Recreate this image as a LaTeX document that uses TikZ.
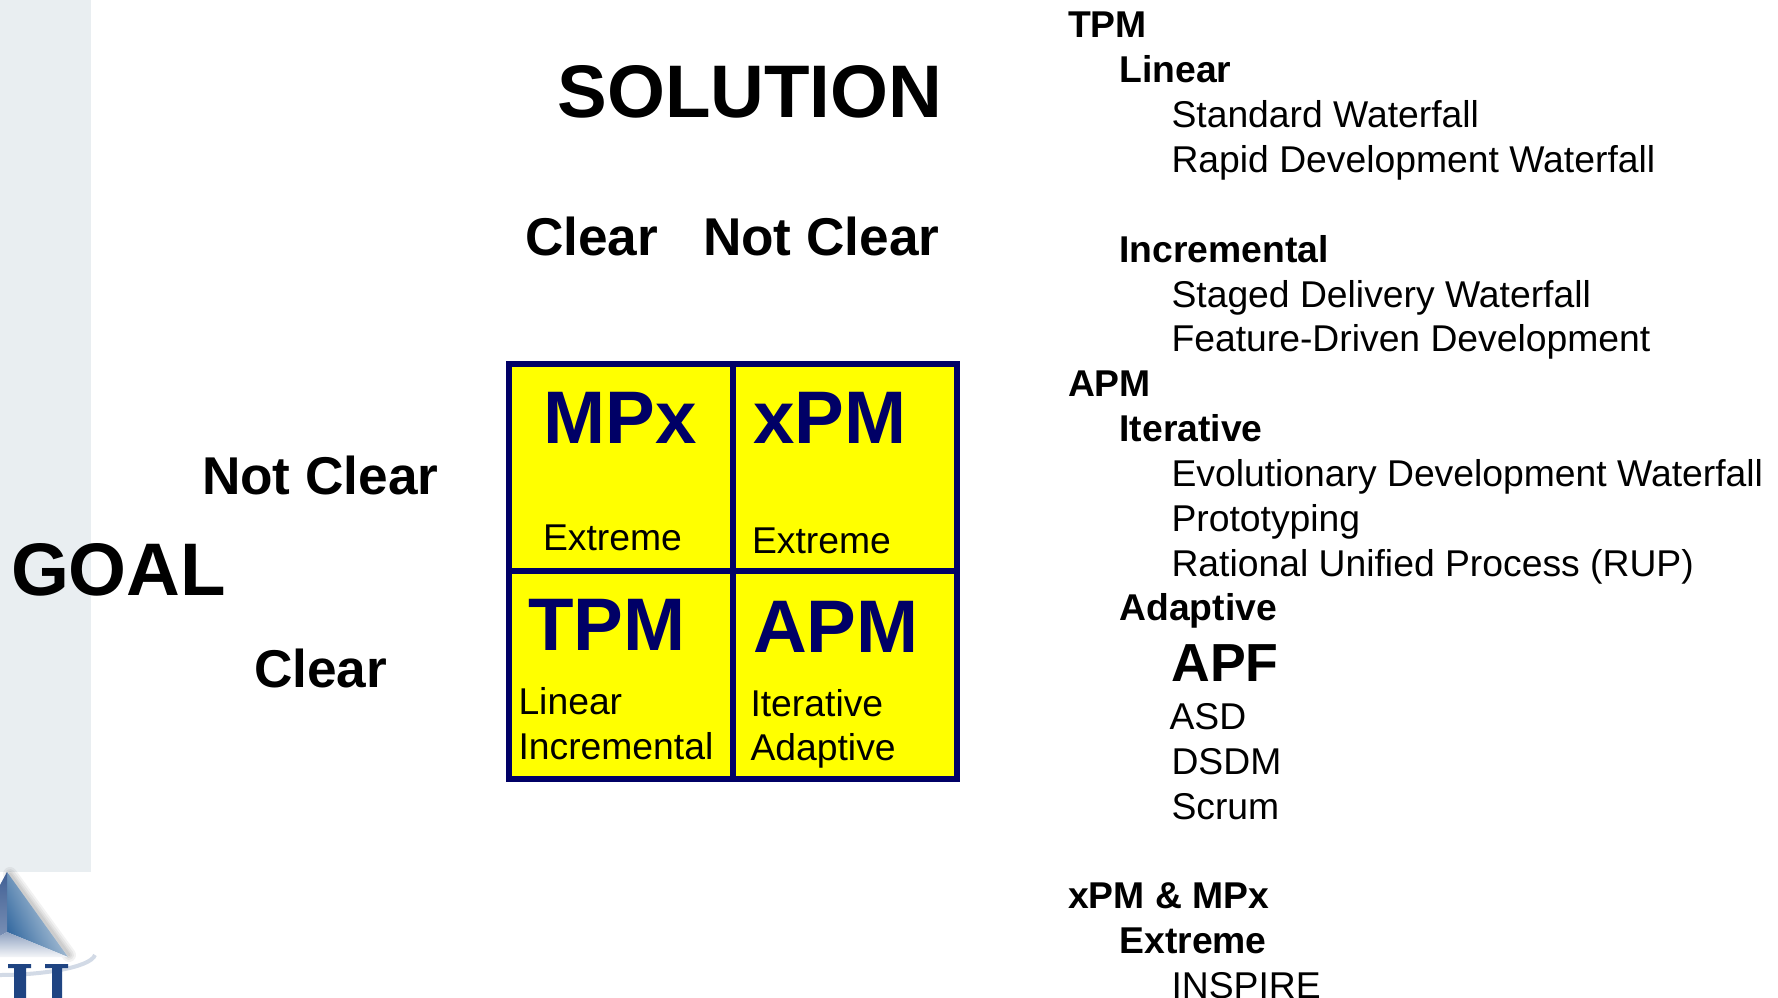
\documentclass[tikz,border=0pt]{standalone}
\usepackage{fontspec}
\setmainfont{Liberation Sans}
\definecolor{navyb}{RGB}{0,0,102}
\definecolor{yel}{RGB}{255,255,0}
\definecolor{stripc}{RGB}{233,238,241}
\definecolor{logob}{RGB}{31,68,130}
\definecolor{facea}{RGB}{52,105,160}
\definecolor{faceb}{RGB}{215,226,234}
\tikzset{
 px/.style={x=1pt,y=-1pt},
 lab/.style={anchor=base west,inner sep=0pt,outer sep=0pt},
 head/.style={lab,font=\fontsize{37.3}{37.3}\selectfont\bfseries},
 item/.style={lab,font=\fontsize{37.3}{37.3}\selectfont},
 big/.style={lab,font=\fontsize{53.2}{53.2}\selectfont\bfseries},
 huge/.style={lab,font=\fontsize{74.5}{74.5}\selectfont\bfseries},
 quad/.style={lab,text=navyb,font=\fontsize{74.5}{74.5}\selectfont\bfseries},
 sub/.style={lab,font=\fontsize{37.3}{37.3}\selectfont},
 cell/.style={draw=navyb,fill=yel,line width=6pt,inner sep=0pt,minimum width=224pt,minimum height=207.5pt,anchor=center},
 soft/.style={line cap=round,draw=black,draw opacity=.05}
}
\begin{document}
\begin{tikzpicture}[px]
\useasboundingbox (0,0) rectangle (1778,998);
\fill[white] (0,0) rectangle (1778,998);
\fill[stripc] (0,0) rectangle (91,872);
% logo
\draw[soft,line width=14pt] (10,874) -- (69,955);
\draw[soft,line width=10pt] (10,874) -- (69,955);
\draw[soft,line width=6pt] (10,874) -- (69,955);
\draw[soft,line width=3pt] (10,874) -- (69,955);
\shade[left color=facea,right color=faceb,shading angle=115] (7,872) -- (68,957) -- (7,932) -- cycle;
\shade[top color=logob!85!white,bottom color=logob!60!white] (0,885) -- (7,872) -- (7,932) -- (0,936) -- cycle;
\shade[top color=logob!50!white,bottom color=white!95!logob] (0,936) -- (7,932) -- (68,957) -- (0,957) -- cycle;
\draw[line width=4pt,logob!20!white] (0,975) .. controls (40,975) and (90,968) .. (95,955);
\fill[logob] (8,964) rectangle (31,968) (14,964) rectangle (26,998) (45,964) rectangle (68,968) (52,964) rectangle (62,998);
% matrix
\node[cell] (mpx) at (621,467.5) {};
\node[cell] (xpm) at (844.5,467.5) {};
\node[cell] (tpm) at (621,675) {};
\node[cell] (apm) at (844.5,675) {};
\node[quad] (t1) at (543.5,443) {MPx};
\node[quad] (t2) at (753,443) {xPM};
\node[quad] (t3) at (528,650) {TPM};
\node[quad] (t4) at (753,652.5) {APM};
\node[sub] (s1) at (543,550) {Extreme};
\node[sub] (s2) at (752,553) {Extreme};
\node[sub] (s3) at (518.5,714) {Linear};
\node[sub] (s4) at (518.5,759) {Incremental};
\node[sub] (s5) at (750.5,716) {Iterative};
\node[sub] (s6) at (750.5,760) {Adaptive};
% axis labels
\node[huge] (sol) at (557.5,117.5) {SOLUTION};
\node[huge] (goal) at (11,595) {GOAL};
\node[big] (c1) at (525,255) {Clear};
\node[big] (c2) at (703,255) {Not Clear};
\node[big] (c3) at (202,494.5) {Not Clear};
\node[big] (c4) at (254,687) {Clear};
% list
\node[head] (a1) at (1068,38) {TPM};
\node[head] (a2) at (1119.5,83) {Linear};
\node[item] (a3) at (1171.5,127) {Standard Waterfall};
\node[item] (a4) at (1171.5,172) {Rapid Development Waterfall};
\node[head] (a5) at (1119.5,262) {Incremental};
\node[item] (a6) at (1171.5,307) {Staged Delivery Waterfall};
\node[item] (a7) at (1171.5,351) {Feature-Driven Development};
\node[head] (a8) at (1068,396) {APM};
\node[head] (a9) at (1119.5,441) {Iterative};
\node[item] (a10) at (1171.5,486) {Evolutionary Development Waterfall};
\node[item] (a11) at (1171.5,531) {Prototyping};
\node[item] (a12) at (1171.5,576) {Rational Unified Process (RUP)};
\node[head] (a13) at (1119.5,620) {Adaptive};
\node[lab,font=\fontsize{53.6}{53.6}\selectfont\bfseries] (a14) at (1171.5,681) {APF};
\node[item] (a15) at (1169.5,729) {ASD};
\node[item] (a16) at (1171.5,774) {DSDM};
\node[item] (a17) at (1171.5,819) {Scrum};
\node[head] (a18) at (1068,908) {xPM \& MPx};
\node[head] (a19) at (1119.5,953) {Extreme};
\node[item] (a20) at (1171.5,998) {INSPIRE};
\end{tikzpicture}
\end{document}
